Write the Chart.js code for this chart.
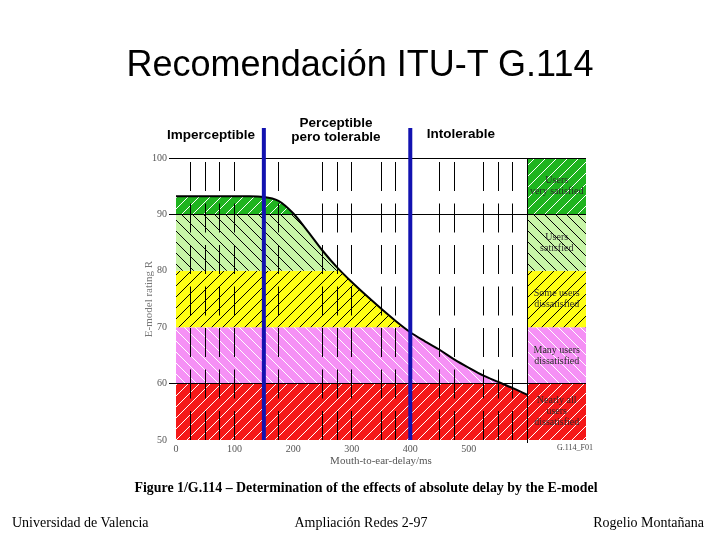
<!DOCTYPE html>
<html>
<head>
<meta charset="utf-8">
<script src="https://cdn.jsdelivr.net/npm/chart.js@4/dist/chart.umd.min.js"></script>
<style>
  body { margin: 0; background: #fff; }
  #wrap { position: relative; width: 720px; height: 540px; overflow: hidden; }
  #wrap canvas { position: absolute; left: 0; top: 0; }
  .txt { position: absolute; white-space: nowrap; color: #000; }
  .sans { font-family: "Liberation Sans", Arial, sans-serif; }
  .serif { font-family: "Liberation Serif", "Times New Roman", serif; }
</style>
</head>
<body>
<div id="wrap">
  <canvas id="myChart" width="720" height="540"></canvas>
  <div class="txt sans" style="left:0;width:720px;top:46px;text-align:center;font-size:36px;line-height:36px;">Recomendación ITU-T G.114</div>
  <div class="txt sans" style="left:151px;width:120px;top:127px;text-align:center;font-size:13.5px;font-weight:bold;line-height:15px;">Imperceptible</div>
  <div class="txt sans" style="left:276px;width:120px;top:116px;text-align:center;font-size:13.5px;font-weight:bold;line-height:14px;">Perceptible<br>pero tolerable</div>
  <div class="txt sans" style="left:401px;width:120px;top:126px;text-align:center;font-size:13.5px;font-weight:bold;line-height:15px;">Intolerable</div>
  <div class="txt serif" style="left:545px;width:60px;top:443px;text-align:center;font-size:8px;line-height:10px;color:#444;">G.114_F01</div>
  <div class="txt serif" style="left:66px;width:600px;top:480px;text-align:center;font-size:13.9px;font-weight:bold;line-height:16px;">Figure 1/G.114 – Determination of the effects of absolute delay by the E-model</div>
  <div class="txt serif" style="left:12px;top:515px;font-size:14px;line-height:16px;">Universidad de Valencia</div>
  <div class="txt serif" style="left:211px;width:300px;top:515px;text-align:center;font-size:14px;line-height:16px;">Ampliación Redes 2-97</div>
  <div class="txt serif" style="right:16px;top:515px;font-size:14px;line-height:16px;">Rogelio Montañana</div>
</div>
<script>
// E-model rating R vs mouth-to-ear delay
const delayMs = [0, 25, 50, 75, 100, 125, 150, 175, 200, 225, 250, 275, 300,
                 325, 350, 375, 400, 425, 450, 475, 500, 525, 550, 575, 600];
const ratingR = [93.2, 93.2, 93.2, 93.2, 93.2, 93.2, 93.1, 92.4, 90.2, 87.0, 83.6, 80.6, 78.0,
                 75.6, 73.3, 71.1, 69.1, 67.5, 66.0, 64.3, 62.8, 61.4, 60.3, 59.2, 58.0];

// satisfaction bands
const bandLower = [90, 80, 70, 60, 50];
const bandUpper = [100, 90, 80, 70, 60];
const bandNames = [
  ['Users', 'very satisfied'],
  ['Users', 'satisfied'],
  ['Some users', 'dissatisfied'],
  ['Many users', 'dissatisfied'],
  ['Nearly all', 'users', 'dissatisfied']
];

// delay limits (blue lines) and axis stuff
const thresholdsMs = [150, 400];
const dashedGridMs = [25, 50, 75, 100, 175, 250, 275, 300, 350, 375, 450, 475, 525, 550, 575];
const xTicks = [0, 100, 200, 300, 400, 500, 600];
const xLabelMax = 500;
const legendColMid = 650;
const yTicks = [50, 60, 70, 80, 90, 100];
const yLines = [60, 90, 100];

// colours
const bandFill = ['#1fb41f', '#c8f5a8', '#ffff14', '#f590f5', '#f51818'];
const hatchInk = ['#ffffff', '#000000', '#000000', '#ffffff', '#ffffff'];
const hatchDir = ['/', '\\', '/', '\\', '/'];

function hatch(bg, fg, dir) {
  const s = 11;
  const c = document.createElement('canvas');
  c.width = c.height = s;
  const g = c.getContext('2d');
  g.fillStyle = bg;
  g.fillRect(0, 0, s, s);
  g.strokeStyle = fg;
  g.lineWidth = 1;
  g.beginPath();
  for (const k of [-s, 0, s]) {
    if (dir === '/') { g.moveTo(k, s); g.lineTo(k + s, 0); }
    else { g.moveTo(k, 0); g.lineTo(k + s, s); }
  }
  g.stroke();
  return g.createPattern(c, 'repeat');
}

const bandSets = bandUpper.map((top, i) => ({
  data: [{ x: 0, y: top }, { x: 700, y: top }],
  fill: { value: bandLower[i] },
  backgroundColor: hatch(bandFill[i], hatchInk[i], hatchDir[i]),
  borderWidth: 0,
  pointRadius: 0,
  order: 3
}));

const curveSet = {
  data: delayMs.map((d, i) => ({ x: d, y: ratingR[i] })),
  fill: 'end',
  backgroundColor: '#ffffff',
  borderColor: '#000000',
  borderWidth: 2,
  pointRadius: 0,
  cubicInterpolationMode: 'monotone',
  order: 2
};

const overlay = {
  id: 'overlay',
  afterDraw(chart) {
    const { ctx, chartArea, scales: { x, y } } = chart;
    ctx.save();
    // delay limits
    ctx.strokeStyle = '#1212b0';
    ctx.lineWidth = 4;
    thresholdsMs.forEach(t => {
      const px = x.getPixelForValue(t);
      ctx.beginPath();
      ctx.moveTo(px, chartArea.top - 30);
      ctx.lineTo(px, chartArea.bottom);
      ctx.stroke();
    });
    // band names in the right column
    ctx.font = '10px "Liberation Serif", serif';
    ctx.fillStyle = '#2a2a2a';
    ctx.textAlign = 'center';
    ctx.textBaseline = 'middle';
    const cx = x.getPixelForValue(legendColMid);
    bandNames.forEach((lines, i) => {
      const cy = y.getPixelForValue((bandLower[i] + bandUpper[i]) / 2);
      lines.forEach((s, j) => ctx.fillText(s, cx, cy + (j - (lines.length - 1) / 2) * 11));
    });
    ctx.restore();
  }
};

const tickFont = { family: '"Liberation Serif", serif', size: 10 };

new Chart(document.getElementById('myChart'), {
  type: 'line',
  data: { datasets: [...bandSets, curveSet] },
  options: {
    responsive: false,
    animation: false,
    layout: { padding: { left: 143, right: 134, top: 158, bottom: 70 } },
    plugins: { legend: { display: false }, tooltip: { enabled: false } },
    scales: {
      x: {
        type: 'linear', min: 0, max: 700,
        afterBuildTicks: s => { s.ticks = xTicks.map(v => ({ value: v })); },
        afterFit: s => { s.height = 30; },
        ticks: {
          autoSkip: false, maxRotation: 0, padding: 0,
          color: '#555', font: tickFont,
          callback: v => (v <= xLabelMax ? String(v) : '')
        },
        grid: {
          z: 1, tickLength: 3, lineWidth: 1,
          color: c => (c.tick && c.tick.value === 600 ? '#000' : 'rgba(0,0,0,0)')
        },
        border: { display: false },
        title: {
          display: true, text: 'Mouth-to-ear-delay/ms', color: '#555',
          font: { family: '"Liberation Serif", serif', size: 11 }, padding: { top: 0, bottom: 2 }
        }
      },
      xg: {
        type: 'linear', position: 'top', min: 0, max: 700,
        afterBuildTicks: s => { s.ticks = dashedGridMs.map(v => ({ value: v })); },
        afterFit: s => { s.height = 0; },
        ticks: { display: false },
        grid: { z: 1, color: '#000', lineWidth: 1, drawTicks: false },
        border: { display: false, dash: [29, 12.5], dashOffset: 37.5 }
      },
      y: {
        min: 50, max: 100,
        afterBuildTicks: s => { s.ticks = yTicks.map(v => ({ value: v })); },
        afterFit: s => { s.width = 33; },
        ticks: { color: '#555', font: tickFont, padding: 2 },
        grid: {
          z: 1, tickLength: 7, lineWidth: 1,
          color: c => (c.tick && yLines.includes(c.tick.value) ? '#000' : 'rgba(0,0,0,0)')
        },
        border: { display: false },
        title: {
          display: true, text: 'E-model rating R', color: '#777',
          font: { family: '"Liberation Serif", serif', size: 11 }, padding: 0
        }
      }
    }
  },
  plugins: [overlay]
});
</script>
</body>
</html>
